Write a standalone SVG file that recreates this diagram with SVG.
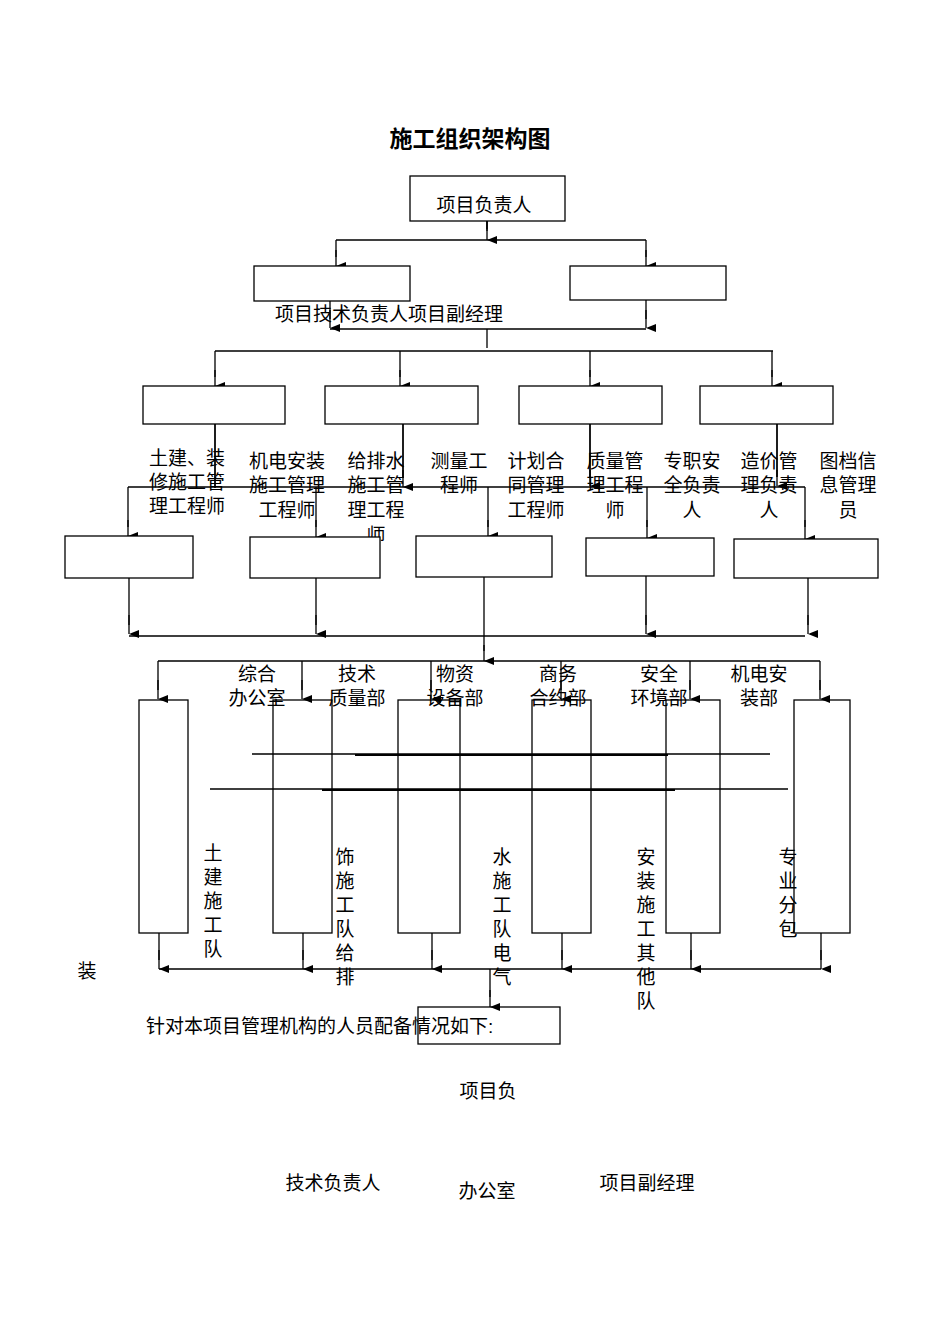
<svg xmlns="http://www.w3.org/2000/svg" width="950" height="1344" viewBox="0 0 950 1344">
<defs>
<marker id="a" markerWidth="8" markerHeight="10" refX="4" refY="10" orient="auto-start-reverse" markerUnits="userSpaceOnUse" viewBox="0 0 8 10"><path d="M0,0 L8,0 L4,10 z" fill="#000" transform="rotate(0)"/></marker>
<style>
.b{fill:#fff;stroke:#000;stroke-width:1.3}
.l{fill:none;stroke:#000;stroke-width:1.3}
.t{font-family:"Liberation Sans","Noto Sans CJK SC",sans-serif;font-size:19px;fill:#000;text-anchor:middle}
.s{text-anchor:start}
</style>
</defs>
<rect width="950" height="1344" fill="#fff"/>
<text x="470" y="147" class="t" style="font-size:23px;font-weight:bold">施工组织架构图</text>
<g id="connectors">
<path class="l" d="M487,221V229"/>
<path class="l" d="M336,240H646M336,240V257M646,240V257"/>
<path class="l" d="M487,221V231"/>
<path class="l" d="M330,300V319M646,300V319M330,329H646M487,329V348"/>
<path class="l" d="M215,351H773M215,351V377M400,351V377M590,351V377M772,351V377"/>
<path class="l" d="M215,424V488M403,424V478M590,424V477M777,424V477"/>
<path class="l" d="M128,487H805M128,487V527M316,487V527M488,487V527M647,487V527M805,487V527"/>
<path class="l" d="M129,578V625M316,578V625M646,576V625M808,578V625M129,636H805"/>
<path class="l" d="M484,577V651M158,661H820M158,661V690M302,661V690M431,661V690M561,661V690M690,661V690M820,661V690"/>
<path class="l" d="M252,754H770M210,789H788"/>
<path class="l" style="stroke-width:2.2" d="M355,755H668M322,790H675"/>
<path class="l" d="M159,933V960M303,933V960M432,933V960M562,933V960M691,933V960M821,933V960M159,969H821M490,969V997"/>
<g marker-end="url(#a)" class="l">
<path d="M487,221V240"/><path d="M336,250V266"/><path d="M646,250V266"/>
<path d="M330,310V328"/><path d="M646,310V328"/>
<path d="M215,370V386"/><path d="M400,370V386"/><path d="M590,370V386"/><path d="M772,370V386"/>
<path d="M403,470V487"/><path d="M590,470V486"/><path d="M777,470V486"/>
<path d="M128,520V536"/><path d="M316,520V537"/><path d="M488,520V536"/><path d="M647,520V538"/><path d="M805,520V539"/>
<path d="M129,615V634"/><path d="M316,615V634"/><path d="M646,615V634"/><path d="M808,615V634"/>
<path d="M484,645V661"/>
<path d="M158,680V699"/><path d="M302,680V699"/><path d="M431,680V699"/><path d="M561,680V699"/><path d="M690,680V699"/><path d="M820,680V699"/>
<path d="M159,950V969"/><path d="M303,950V969"/><path d="M432,950V969"/><path d="M562,950V969"/><path d="M691,950V969"/><path d="M821,950V969"/>
<path d="M490,990V1007"/>
</g>
</g>
<g id="n1"><rect class="b" x="410" y="176" width="155" height="45"/><text class="t" x="484" y="212">项目负责人</text></g>
<g id="n2"><rect class="b" x="254" y="266" width="156" height="35"/></g>
<g id="n3"><rect class="b" x="570" y="266" width="156" height="34"/></g>
<text class="t s" x="275" y="321">项目技术负责人项目副经理</text>
<g id="r3a"><rect class="b" x="143" y="386" width="142" height="38"/></g>
<g id="r3b"><rect class="b" x="325" y="386" width="153" height="38"/></g>
<g id="r3c"><rect class="b" x="519" y="386" width="143" height="38"/></g>
<g id="r3d"><rect class="b" x="700" y="386" width="133" height="38"/></g>
<path class="l" d="M215,424V488M403,424V478M590,424V477M777,424V477"/>
<g id="labels" class="t">
<text x="187" y="465">土建、装</text><text x="187" y="489">修施工管</text><text x="187" y="513">理工程师</text>
<text x="287" y="468">机电安装</text><text x="287" y="492">施工管理</text><text x="287" y="517">工程师</text>
<text x="376" y="468">给排水</text><text x="376" y="492">施工管</text><text x="376" y="517">理工程</text><text x="376" y="542">师</text>
<text x="459" y="468">测量工</text><text x="459" y="492">程师</text>
<text x="536" y="468">计划合</text><text x="536" y="492">同管理</text><text x="536" y="517">工程师</text>
<text x="615" y="468">质量管</text><text x="615" y="492">理工程</text><text x="615" y="517">师</text>
<text x="692" y="468">专职安</text><text x="692" y="492">全负责</text><text x="692" y="517">人</text>
<text x="769" y="468">造价管</text><text x="769" y="492">理负责</text><text x="769" y="517">人</text>
<text x="848" y="468">图档信</text><text x="848" y="492">息管理</text><text x="848" y="517">员</text>
</g>
<g id="r4a"><rect class="b" x="65" y="536" width="128" height="42"/></g>
<g id="r4b"><rect class="b" x="250" y="537" width="130" height="41"/></g>
<g id="r4c"><rect class="b" x="416" y="536" width="136" height="41"/></g>
<g id="r4d"><rect class="b" x="586" y="538" width="128" height="38"/></g>
<g id="r4e"><rect class="b" x="734" y="539" width="144" height="39"/></g>
<g id="tall" >
<rect class="b" x="139" y="700" width="49" height="233" fill-opacity="0"/>
<rect class="b" x="273" y="700" width="59" height="233" style="fill:none"/>
<rect class="b" x="398" y="700" width="62" height="233" style="fill:none"/>
<rect class="b" x="532" y="700" width="59" height="233" style="fill:none"/>
<rect class="b" x="666" y="700" width="54" height="233" style="fill:none"/>
<rect class="b" x="794" y="700" width="56" height="233" style="fill:none"/>
</g>
<g id="depts" class="t">
<text x="257" y="681">综合</text><text x="257" y="705">办公室</text>
<text x="357" y="681">技术</text><text x="357" y="705">质量部</text>
<text x="455" y="681">物资</text><text x="455" y="705">设备部</text>
<text x="558" y="681">商务</text><text x="558" y="705">合约部</text>
<text x="659" y="681">安全</text><text x="659" y="705">环境部</text>
<text x="759" y="681">机电安</text><text x="759" y="705">装部</text>
</g>
<g id="teams" class="t">
<text x="213" y="860">土</text><text x="213" y="884">建</text><text x="213" y="908">施</text><text x="213" y="932">工</text><text x="213" y="956">队</text>
<text x="345" y="864">饰</text><text x="345" y="888">施</text><text x="345" y="912">工</text><text x="345" y="936">队</text><text x="345" y="960">给</text><text x="345" y="984">排</text>
<text x="502" y="864">水</text><text x="502" y="888">施</text><text x="502" y="912">工</text><text x="502" y="936">队</text><text x="502" y="960">电</text><text x="502" y="984">气</text>
<text x="646" y="864">安</text><text x="646" y="888">装</text><text x="646" y="912">施</text><text x="646" y="936">工</text><text x="646" y="960">其</text><text x="646" y="984">他</text><text x="646" y="1008">队</text>
<text x="788" y="864">专</text><text x="788" y="888">业</text><text x="788" y="912">分</text><text x="788" y="936">包</text>
<text x="87" y="978">装</text>
</g>
<g id="nb"><rect class="b" x="418" y="1007" width="142" height="37" style="fill:none"/></g>
<g class="t">
<text class="s" x="146" y="1033">针对本项目管理机构的人员配备情况如下:</text>
<text x="488" y="1098">项目负</text>
<text x="333" y="1190">技术负责人</text>
<text x="487" y="1198">办公室</text>
<text x="647" y="1190">项目副经理</text>
</g>
</svg>
